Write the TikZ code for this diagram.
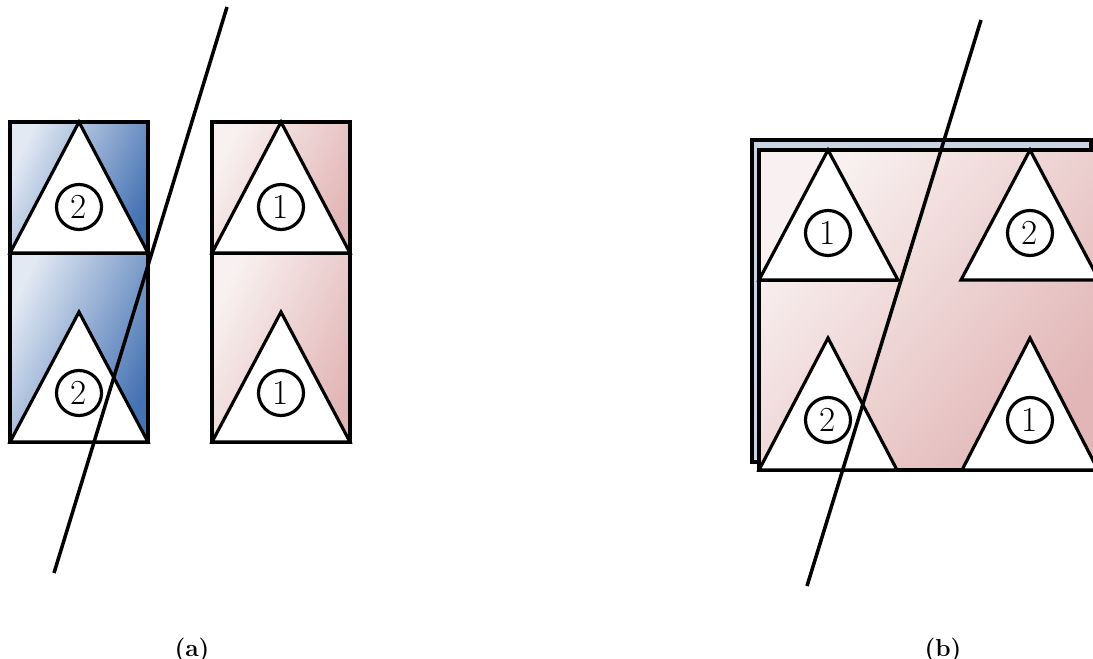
\documentclass[tikz,border=0pt]{standalone}
\definecolor{blueL}{HTML}{E2E9F3}
\definecolor{blueD}{HTML}{4572B3}
\definecolor{pinkL}{HTML}{F9F1F1}
\definecolor{pinkD}{HTML}{E2B6B6}
\definecolor{backblue}{HTML}{C8D3E3}
\begin{document}
\begin{tikzpicture}[x=0.02cm,y=-0.02cm,line width=1.8pt,line join=miter,
    bluecell/.style={draw=black,top color=blueL,bottom color=blueD,shading angle=65},
    pinkcell/.style={draw=black,top color=pinkL,bottom color=pinkD,shading angle=65},
    tri/.style={draw=black,fill=white},
    num/.style={draw=black,fill=white,circle,minimum size=0.9cm,inner sep=0pt,
      font=\fontsize{20}{22}\selectfont},
    cut/.style={draw=black,line width=2pt},
    caption/.style={font=\fontsize{14}{16}\selectfont\bfseries}]
  \useasboundingbox (0,0) rectangle (1093,659);
  \clip (0,0) rectangle (1093,659);
  % (a)
  \begin{scope}
    \path[bluecell] (10,122) rectangle (148,253);
    \path[bluecell] (10,253) rectangle (148,442);
    \path[pinkcell] (212,122) rectangle (350,253);
    \path[pinkcell] (212,253) rectangle (350,442);
    \draw[tri] (10,253) -- (79,122) -- (148,253) -- cycle;
    \draw[tri] (10,442) -- (79,312) -- (148,442) -- cycle;
    \draw[tri] (212,253) -- (281,122) -- (350,253) -- cycle;
    \draw[tri] (212,442) -- (281,312) -- (350,442) -- cycle;
    \node[num] (a1) at (79,207) {2};
    \node[num] (a2) at (79,393) {2};
    \node[num] (a3) at (281,207) {1};
    \node[num] (a4) at (281,393) {1};
    \coordinate (atop) at (227,7);
    \coordinate (abot) at (54,573);
    \draw[cut] (atop) -- (abot);
    \node[caption] (capa) at (192,650) {(a)};
  \end{scope}
  % (b)
  \begin{scope}
    \draw[fill=backblue] (752,140) rectangle (1091,462);
    \path[draw=black,top color=pinkL,bottom color=pinkD,shading angle=50]
      (759,150) rectangle (1100,470);
    \draw (759,280) -- (898,280);
    \draw[tri] (759,280) -- (828,150) -- (898,280) -- cycle;
    \draw[tri] (961,280) -- (1030,150) -- (1099,280) -- cycle;
    \draw[tri] (759,470) -- (828,338) -- (897,470) -- cycle;
    \draw[tri] (962,470) -- (1030,338) -- (1098,470) -- cycle;
    \node[num] (b1) at (828,233) {1};
    \node[num] (b2) at (1030,233) {2};
    \node[num] (b3) at (828,420) {2};
    \node[num] (b4) at (1030,420) {1};
    \coordinate (btop) at (981,20);
    \coordinate (bbot) at (807,586);
    \draw[cut] (btop) -- (bbot);
    \node[caption] (capb) at (943,650) {(b)};
  \end{scope}
\end{tikzpicture}
\end{document}
